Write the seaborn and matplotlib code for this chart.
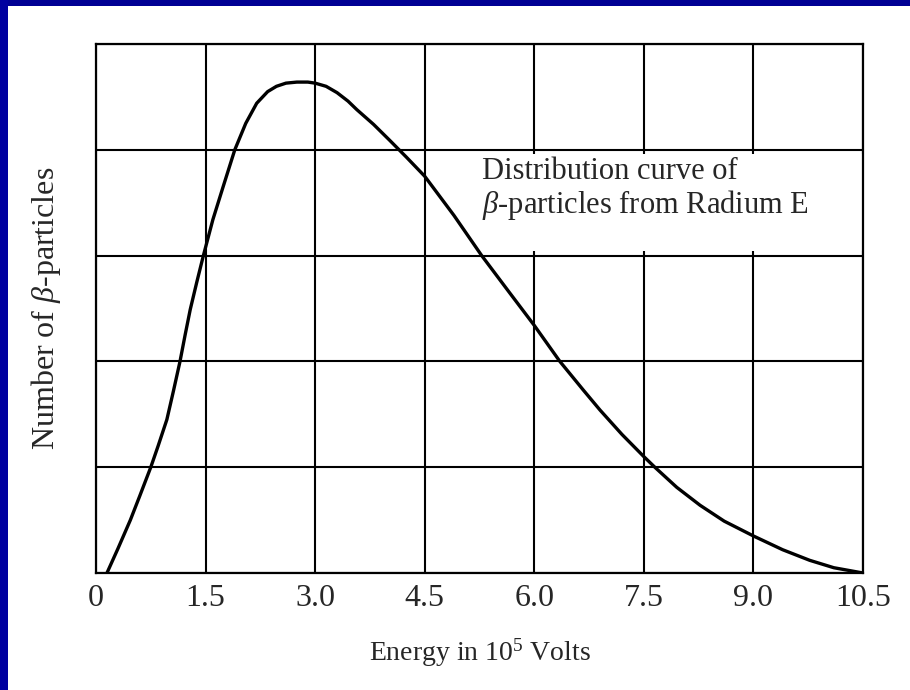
import matplotlib
matplotlib.use("Agg")
import matplotlib.pyplot as plt
import seaborn as sns
import pandas as pd
from matplotlib.patches import Rectangle

# Data
energy = [0.15, 0.30, 0.47, 0.60, 0.75, 0.85, 0.97, 1.06, 1.15, 1.22, 1.29,
          1.38, 1.47, 1.60, 1.74, 1.90, 2.05, 2.20, 2.35, 2.47, 2.60, 2.75,
          2.90, 3.00, 3.15, 3.30, 3.45, 3.57, 3.80, 4.02, 4.25, 4.50, 4.90,
          5.28, 5.65, 6.00, 6.35, 6.67, 6.90, 7.20, 7.50, 7.65, 7.95, 8.27,
          8.60, 9.00, 9.40, 9.77, 10.10, 10.50]
counts = [0.00, 0.23, 0.50, 0.73, 1.00, 1.20, 1.45, 1.72, 2.00, 2.25, 2.49,
          2.75, 3.00, 3.34, 3.65, 4.00, 4.25, 4.44, 4.55, 4.60, 4.63, 4.64,
          4.64, 4.63, 4.60, 4.54, 4.46, 4.38, 4.24, 4.09, 3.93, 3.75, 3.38,
          3.00, 2.66, 2.34, 2.00, 1.73, 1.54, 1.31, 1.10, 1.00, 0.81, 0.64,
          0.49, 0.35, 0.22, 0.12, 0.05, 0.00]
xticks = [0, 1.5, 3.0, 4.5, 6.0, 7.5, 9.0, 10.5]
xticklabels = ["0", "1.5", "3.0", "4.5", "6.0", "7.5", "9.0", "10.5"]
yticks = [0, 1, 2, 3, 4, 5]
note_lines = ["Distribution curve of", "$\\beta$-particles from Radium E"]

sns.set_style("white")
plt.rcParams['font.family'] = ['Liberation Serif', 'DejaVu Serif']
plt.rcParams['mathtext.fontset'] = 'custom'
plt.rcParams['mathtext.rm'] = 'Liberation Serif'
plt.rcParams['mathtext.it'] = 'Liberation Serif:italic'

df = pd.DataFrame({"energy": energy, "count": counts})

fig = plt.figure(figsize=(9.1, 6.9), dpi=100)
fig.patch.set_facecolor("white")
# blue frame strips (top and left)
fig.patches.append(Rectangle((0, 1 - 6/690), 1, 6/690, transform=fig.transFigure,
                             facecolor="#000094", edgecolor="none", zorder=0))
fig.patches.append(Rectangle((0, 0), 8/910, 1, transform=fig.transFigure,
                             facecolor="#0000A0", edgecolor="none", zorder=0))

ax = fig.add_axes([96/910, 1 - 573/690, (863 - 96)/910, (573 - 44)/690])
ax.set_axisbelow(True)
sns.lineplot(data=df, x="energy", y="count", ax=ax, color="black", linewidth=2.4,
             sort=False, estimator=None, zorder=3,
             solid_joinstyle="round", solid_capstyle="round")

ax.set_xlim(0, 10.5)
ax.set_ylim(0, 5)
ax.set_xticks(xticks)
ax.set_xticklabels(xticklabels, fontsize=23)
ax.set_yticks(yticks)
ax.set_yticklabels([])
ax.tick_params(axis="both", length=0)
ax.tick_params(axis="x", pad=8)
ax.grid(True, color="black", linewidth=1.5)
for s in ax.spines.values():
    s.set_visible(True)
    s.set_color("black")
    s.set_linewidth(1.6)

# white box behind the annotation (interrupts grid)
ax.add_patch(Rectangle((5.1, 3.04), 5.38, 0.92, facecolor="white",
                       edgecolor="none", zorder=1))
ax.text(5.28, 3.72, note_lines[0], fontsize=22, va="baseline", ha="left", zorder=4)
ax.text(5.28, 3.40, note_lines[1], fontsize=22, va="baseline", ha="left", zorder=4)

ax.set_xlabel("Energy in 10$^5$ Volts", fontsize=20, labelpad=17)
ax.set_ylabel("Number of $\\beta$-particles", fontsize=23, labelpad=20)

fig.savefig("out.png", dpi=100)
